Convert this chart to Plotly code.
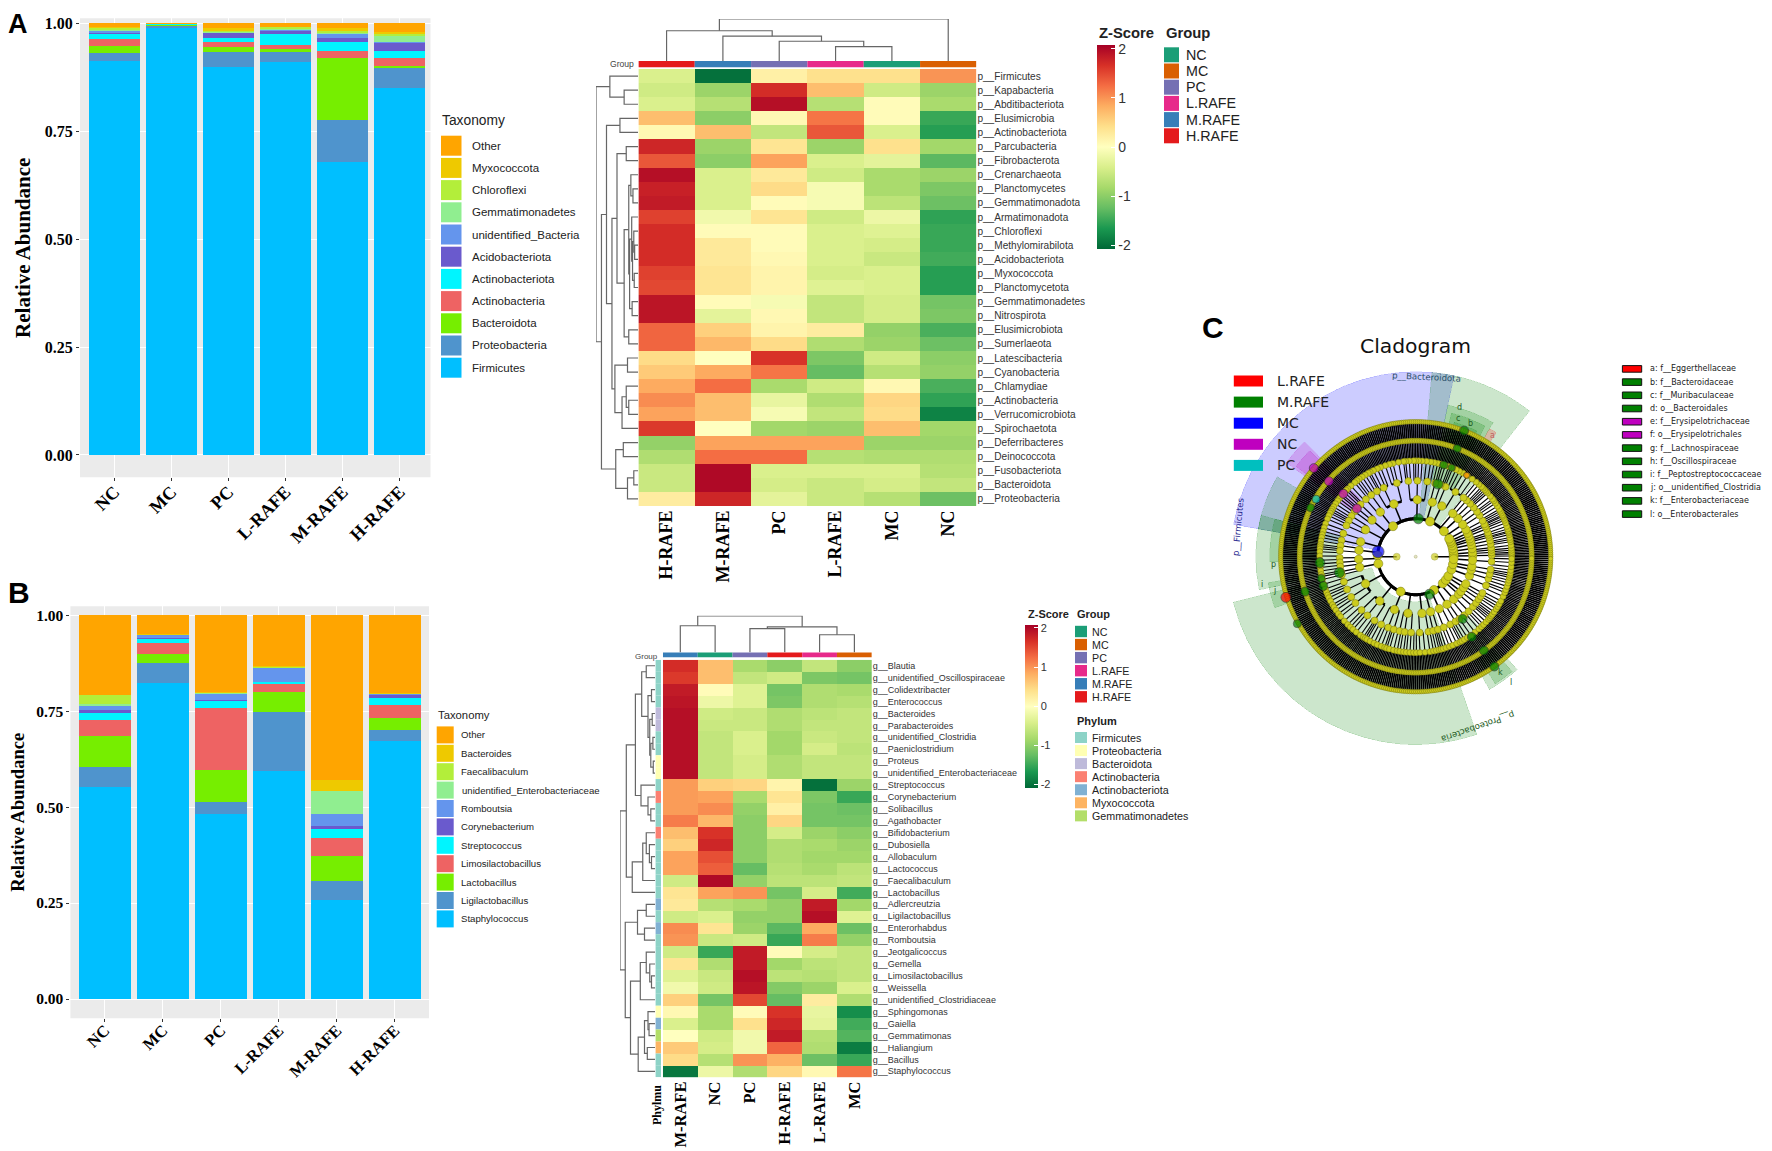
import plotly.graph_objects as go

# the page body keeps its default 8px margin, so the figure is 8px smaller and all pixel positions shift by 8
W, H = 1772, 1151
PAGE_MARGIN = 8
FIG_W, FIG_H = W - PAGE_MARGIN, H - PAGE_MARGIN

SERIF = "Liberation Serif"
SANS = "Liberation Sans"
DEJAVU = "DejaVu Sans"

SAMPLES = ["NC", "MC", "PC", "L-RAFE", "M-RAFE", "H-RAFE"]

# panel A, stacked phylum abundance (bottom of the stack first)
PHYLA_A = ["Firmicutes", "Proteobacteria", "Bacteroidota", "Actinobacteria", "Actinobacteriota",
           "Acidobacteriota", "unidentified_Bacteria", "Gemmatimonadetes", "Chloroflexi", "Myxococcota", "Other"]
ABUND_A = {
    "NC": [.913, .019, .016, .015, .012, .004, .004, .002, .004, .003, .008],
    "MC": [.989, .006, .001, .001, .001, .0, .0, .0, .001, .0, .001],
    "PC": [.899, .034, .012, .011, .011, .011, .001, .001, .003, .006, .011],
    "L-RAFE": [.910, .024, .006, .010, .025, .008, .001, .002, .005, .0015, .0075],
    "M-RAFE": [.678, .099, .143, .016, .020, .011, .008, .004, .004, .006, .011],
    "H-RAFE": [.850, .047, .004, .019, .016, .019, .001, .015, .004, .004, .021],
}

# panel B, stacked genus abundance
GENERA_B = ["Staphylococcus", "Ligilactobacillus", "Lactobacillus", "Limosilactobacillus", "Streptococcus",
            "Corynebacterium", "Romboutsia", "unidentified_Enterobacteriaceae", "Faecalibaculum", "Bacteroides", "Other"]
ABUND_B = {
    "NC": [.553, .051, .082, .041, .019, .008, .011, .003, .024, .001, .207],
    "MC": [.823, .052, .025, .028, .011, .002, .007, .001, .001, .001, .049],
    "PC": [.483, .029, .084, .163, .019, .002, .014, .003, .002, .001, .200],
    "L-RAFE": [.594, .155, .050, .023, .004, .001, .035, .002, .002, .001, .133],
    "M-RAFE": [.259, .048, .066, .046, .023, .008, .031, .061, .001, .027, .430],
    "H-RAFE": [.671, .029, .033, .034, .018, .007, .002, .001, .001, .001, .203],
}
STACK_COLORS = ["#00BFFF", "#4F94CD", "#76EE00", "#EE6363", "#00F5FF", "#6A5ACD",
                "#6495ED", "#90EE90", "#B3EE3A", "#EEC900", "#FFA500"]

# heatmap A
COLS_A = ["H-RAFE", "M-RAFE", "PC", "L-RAFE", "MC", "NC"]
COL_GROUP_A = ["H.RAFE", "M.RAFE", "PC", "L.RAFE", "NC", "MC"]
ROWS_A = ["Firmicutes", "Kapabacteria", "Abditibacteriota", "Elusimicrobia", "Actinobacteriota", "Parcubacteria",
          "Fibrobacterota", "Crenarchaeota", "Planctomycetes", "Gemmatimonadota", "Armatimonadota", "Chloroflexi",
          "Methylomirabilota", "Acidobacteriota", "Myxococcota", "Planctomycetota", "Gemmatimonadetes", "Nitrospirota",
          "Elusimicrobiota", "Sumerlaeota", "Latescibacteria", "Cyanobacteria", "Chlamydiae", "Actinobacteria",
          "Verrucomicrobiota", "Spirochaetota", "Deferribacteres", "Deinococcota", "Fusobacteriota", "Bacteroidota",
          "Proteobacteria"]
Z_A = [
    [-0.4, -2.0, 0.2, 0.4, 0.4, 1.0],
    [-0.5, -0.9, 1.7, 0.7, -0.5, -0.9],
    [-0.4, -0.7, 1.95, -0.7, 0.05, -0.8],
    [0.7, -1.0, 0.1, 1.2, 0.05, -1.5],
    [0.1, 0.7, -0.6, 1.4, -0.4, -1.6],
    [1.75, -0.9, 0.35, -0.9, 0.4, -0.85],
    [1.4, -1.0, 0.9, -0.4, -0.3, -1.3],
    [1.95, -0.4, 0.3, -0.5, -0.8, -0.9],
    [1.8, -0.4, 0.45, -0.1, -0.8, -1.1],
    [1.85, -0.4, 0.05, -0.1, -0.65, -1.2],
    [1.55, -0.15, 0.35, -0.5, -0.2, -1.55],
    [1.7, 0.05, 0.05, -0.4, -0.35, -1.5],
    [1.7, 0.3, 0.05, -0.4, -0.45, -1.5],
    [1.7, 0.3, 0.1, -0.4, -0.55, -1.45],
    [1.55, 0.35, 0.15, -0.45, -0.4, -1.6],
    [1.5, 0.35, 0.15, -0.35, -0.4, -1.6],
    [1.9, 0.05, -0.1, -0.6, -0.45, -1.15],
    [1.9, -0.3, 0.1, -0.6, -0.45, -1.1],
    [1.3, 0.55, 0.15, 0.25, -0.95, -1.4],
    [1.3, 0.75, 0.45, -0.75, -0.9, -1.2],
    [0.45, 0.0, 1.65, -1.1, -0.5, -1.0],
    [0.6, 0.85, 1.2, -1.25, -0.7, -0.95],
    [0.85, 1.25, -0.8, -0.5, 0.1, -1.4],
    [1.05, 0.7, -0.25, -0.75, 0.5, -1.55],
    [0.9, 0.7, -0.1, -0.6, 0.45, -1.85],
    [1.6, 0.0, -0.85, -0.9, 0.7, -0.85],
    [-0.95, 0.9, 0.9, 0.9, -0.9, -0.9],
    [-0.75, 1.25, 1.25, -0.7, -0.75, -0.75],
    [-0.55, 2.0, -0.4, -0.4, -0.4, -0.7],
    [-0.55, 2.0, -0.45, -0.55, -0.45, -0.6],
    [0.25, 1.75, -0.3, -0.55, -0.7, -1.2],
]

# heatmap B
COLS_B = ["M-RAFE", "NC", "PC", "H-RAFE", "L-RAFE", "MC"]
COL_GROUP_B = ["M.RAFE", "NC", "PC", "H.RAFE", "L.RAFE", "MC"]
ROWS_B = ["Blautia", "unidentified_Oscillospiraceae", "Colidextribacter", "Enterococcus", "Bacteroides",
          "Parabacteroides", "unidentified_Clostridia", "Paeniclostridium", "Proteus", "unidentified_Enterobacteriaceae",
          "Streptococcus", "Corynebacterium", "Solibacillus", "Agathobacter", "Bifidobacterium", "Dubosiella",
          "Allobaculum", "Lactococcus", "Faecalibaculum", "Lactobacillus", "Adlercreutzia", "Ligilactobacillus",
          "Enterorhabdus", "Romboutsia", "Jeotgalicoccus", "Gemella", "Limosilactobacillus", "Weissella",
          "unidentified_Clostridiaceae", "Sphingomonas", "Gaiella", "Gemmatimonas", "Haliangium", "Bacillus",
          "Staphylococcus"]
ROW_PHYLUM_B = ["Firmicutes", "Firmicutes", "Firmicutes", "Firmicutes", "Bacteroidota", "Bacteroidota", "Firmicutes",
                "Firmicutes", "Proteobacteria", "Proteobacteria", "Firmicutes", "Actinobacteria", "Firmicutes",
                "Firmicutes", "Actinobacteria", "Firmicutes", "Firmicutes", "Firmicutes", "Firmicutes", "Firmicutes",
                "Actinobacteriota", "Firmicutes", "Actinobacteriota", "Firmicutes", "Firmicutes", "Firmicutes",
                "Firmicutes", "Firmicutes", "Firmicutes", "Proteobacteria", "Actinobacteriota", "Gemmatimonadetes",
                "Myxococcota", "Firmicutes", "Firmicutes"]
Z_B = [
    [1.7, 0.7, -0.8, -1.0, -0.6, -1.0],
    [1.6, 0.7, -0.6, -0.5, -1.1, -1.15],
    [1.85, 0.05, -0.35, -1.15, -0.75, -0.8],
    [1.9, -0.2, -0.35, -1.1, -0.75, -0.7],
    [1.95, -0.5, -0.55, -0.75, -0.65, -0.6],
    [1.95, -0.55, -0.55, -0.75, -0.6, -0.6],
    [1.95, -0.6, -0.4, -0.85, -0.55, -0.6],
    [1.95, -0.6, -0.4, -0.85, -0.45, -0.65],
    [1.95, -0.6, -0.45, -0.75, -0.6, -0.6],
    [1.95, -0.6, -0.45, -0.75, -0.6, -0.6],
    [0.95, 0.55, 0.5, 0.15, -2.0, -0.9],
    [0.95, 0.9, -0.8, 0.35, -1.1, -1.5],
    [0.95, 1.05, -0.95, 0.2, -1.15, -1.2],
    [1.15, 0.75, -1.0, 0.5, -1.15, -1.15],
    [0.7, 1.65, -1.0, -0.45, -0.9, -1.0],
    [0.55, 1.75, -1.0, -0.75, -0.8, -0.9],
    [0.9, 1.45, -1.0, -0.75, -0.85, -0.85],
    [0.9, 1.35, -1.25, -0.7, -0.8, -0.65],
    [-0.5, 2.0, -0.95, -0.65, -0.65, -0.6],
    [0.35, 0.9, 1.0, -1.15, -0.45, -1.45],
    [0.3, -0.7, -0.8, -0.95, 1.85, -0.85],
    [-0.5, -0.4, -0.95, -0.95, 1.95, -0.35],
    [1.05, 0.35, -0.9, -1.3, 0.85, -1.2],
    [1.0, -0.55, -0.5, -1.5, 1.15, -0.95],
    [-0.5, -1.5, 1.85, 0.05, -0.45, -0.6],
    [0.35, -0.75, 1.85, -0.85, -0.65, -0.6],
    [-0.35, -0.55, 1.95, -0.65, -0.7, -0.6],
    [-0.15, -0.5, 1.9, -1.05, -0.9, -0.4],
    [0.55, -1.15, 1.5, -1.25, 0.25, -0.75],
    [0.1, -0.8, 0.05, 1.65, -0.25, -1.75],
    [-0.4, -0.8, 0.4, 1.75, -0.3, -1.45],
    [0.0, -0.5, -0.15, 1.85, -0.7, -1.35],
    [0.6, -0.45, -0.15, 1.3, -0.75, -1.9],
    [0.45, -0.7, 1.0, 0.8, -1.2, -1.5],
    [-1.95, -0.2, -0.75, 0.5, 0.1, 1.2],
]

# dendrograms: (merge height, left child, right child), a leaf is a row or column index
COL_TREE_A = (1.0, (.72, 0, (.59, 1, (.47, 2, (.34, 3, 4)))), 5)
COL_TREE_B = (1.0, (.73, 0, 1), (.70, (.65, 2, 3), (.485, 4, 5)))

_a5_19 = (.5, (.28, 5, 6), (.33, (.22, (.17, 7, (.12, 8, 9)),
                                  (.2, (.15, 10, (.13, (.1, 11, (.08, 12, 13)), (.09, 14, 15))), (.14, 16, 17))),
                            (.22, 18, 19)))
_a20_25 = (.55, (.25, 20, 21), (.38, (.28, 22, (.22, 23, 24)), 25))
_a3_25 = (.75, (.43, 3, 4), (.62, _a5_19, _a20_25))
_a26_30 = (.53, (.35, 26, 27), (.25, (.1, 28, 29), 30))
ROW_TREE_A = (1.0, (.67, 0, (.33, 1, 2)), (.87, _a3_25, _a26_30))

_b0_9 = (.38, (.25, 0, 1), (.2, (.1, 2, 3), (.15, (.08, 4, 5), (.12, (.06, 6, 7), (.05, 8, 9)))))
_b10_13 = (.4, 10, (.2, 11, (.12, 12, 13)))
_b14_19 = (.65, (.35, (.25, 14, (.16, 15, (.1, 16, 17))), 18), 19)
_b20_23 = (.5, (.25, 20, 21), (.3, 22, 23))
_b24_28 = (.42, (.25, 24, (.15, 25, (.1, 26, 27))), 28)
_b29_34 = (.48, (.3, (.2, 29, (.17, 30, 31)), (.22, 32, 33)), 34)
ROW_TREE_B = (1.0, (.82, (.56, _b0_9, _b10_13), _b14_19), (.85, _b20_23, (.7, _b24_28, _b29_34)))

GROUP_NAMES = ["NC", "MC", "PC", "L.RAFE", "M.RAFE", "H.RAFE"]
GROUP_COLORS = ["#1B9E77", "#D95F02", "#7570B3", "#E7298A", "#377EB8", "#E41A1C"]
PHYLUM_NAMES = ["Firmicutes", "Proteobacteria", "Bacteroidota", "Actinobacteria", "Actinobacteriota",
                "Myxococcota", "Gemmatimonadetes"]
PHYLUM_COLORS = ["#8DD3C7", "#FFFFB3", "#BEBADA", "#FB8072", "#80B1D3", "#FDB462", "#B3DE69"]
Z_TICKS = [-2, -1, 0, 1, 2]
Z_SCALE = [[0, "#006837"], [.1, "#1A9850"], [.2, "#66BD63"], [.3, "#A6D96A"], [.4, "#D9EF8B"], [.5, "#FFFFBF"],
           [.6, "#FEE08B"], [.7, "#FDAE61"], [.8, "#F46D43"], [.9, "#D73027"], [1, "#A50026"]]

# cladogram: phylum > class > order > family; an int is that many genera with one species each,
# counts estimated from the density of the rings, going anticlockwise from the east
CLADE_EAST = [[[[2, 1]]], [[[1, 2], [1]]], [[[3], [2, 1]]], [[[2, 2]]], [[[1, 1], [2]], [[2]]], [[[3, 1]]],
              [[[2], [1, 1]]], [[[2, 1, 2]]]]
CLADE_NORTHEAST = [[[[3, 2], [2, 1]], [[4, 2], [1, 2, 1]], [[2, 3], [2]]]]
CLADE_BACTEROIDOTA = [[[[5, 3, 4, 2], [3, 2, 1]], [[2, 3], [1, 2, 2]]]]
CLADE_FIRMICUTES = [[[[3, 2, 4], [2, 3, 1, 2], [4, 1, 2]], [[5, 3, 2, 4], [3, 2, 4, 1], [2, 3]], [[2, 3, 1], [3, 4]],
                     [[2, 1, 3], [1, 2], [2, 2]], [[3, 2], [2, 1, 2], [2, 3]], [[4, 2, 3], [2, 2]]]]
CLADE_WEST = [[[[3, 2], [1, 2, 2]], [[4, 2], [3]]], [[[2, 3], [2, 1], [3]]]]
CLADE_PROTEOBACTERIA = [[[[4, 3, 2], [2, 2, 3], [3, 1, 4], [2, 3]], [[5, 2, 3], [2, 4], [3, 2, 1, 2]],
                         [[3, 3], [2, 4, 1], [2, 2]], [[4, 1], [3, 2], [2, 3, 2]], [[2, 3, 4], [3, 2]],
                         [[2, 2], [1, 2, 2]]]]
CLADE_SOUTHEAST = [[[[3, 2], [4, 1, 2]], [[2, 3], [3]]], [[[4, 3], [2, 2]], [[3, 2, 1]]], [[[2, 1]]],
                   [[[3, 2], [2]], [[2, 3]]], [[[4, 2, 2], [3, 2]]], [[[2, 2]], [[1, 2, 2]]], [[[3, 3, 2]]]]
CLADE_TREE = (CLADE_EAST + CLADE_NORTHEAST + CLADE_BACTEROIDOTA + CLADE_FIRMICUTES
              + CLADE_WEST + CLADE_PROTEOBACTERIA + CLADE_SOUTHEAST)
RING_RADII = [38, 57, 76, 96, 116, 135]
RING_SIZES = [9, 8.5, 7, 6, 5, 4.5]
SPOKE_WIDTHS = [1.5, 1.2, 1.1, 1.4, 1.7]
ARC_WIDTHS = [3, 2.6, 2, 1.2, 1]
KINGDOM_THETA = [0, 180]

# coloured biomarker nodes
MARK_THETA = [172.5, 86, -70, 73, 73, 68, 69, 69, 140.7, 139, 139, 139, 150, 155, 183.6, 191.8, 193, 197.6, 197.5,
              197.4, 209.5, -53, -55, -54, -54.4, 58]
MARK_R = [38, 38, 40, 76, 96, 96, 116, 135, 76, 96, 115, 135, 115, 116, 96, 78, 97, 97, 116, 136, 136, 78, 98, 116,
          135, 96]
MARK_COLOR = ["#0000FF", "#008000", "#008000", "#008000", "#008000", "#008000", "#008000", "#008000", "#BF00BF",
              "#BF00BF", "#BF00BF", "#BF00BF", "#00BFBF", "#008000", "#008000", "#008000", "#008000", "#008000",
              "#008000", "#FF0000", "#008000", "#008000", "#008000", "#008000", "#008000", "#FF8C00"]
MARK_SIZE = [12, 10, 10, 10, 8, 7, 8, 9, 9, 9, 9, 9, 8, 8, 10, 10, 8, 9, 9, 10, 8, 9, 9, 9, 9, 6]

# shaded clades: start angle, end angle, inner radius, outer radius, colour
SECTOR_START = [78, 52, 194, 150, 165, 165, 190, 134, 135, 60, 62, 64, 57, 299, 302]
SECTOR_END = [170, 85, 289, 170, 192, 182, 200, 144, 143, 78, 76, 74, 60, 312, 310]
SECTOR_INNER = [38, 38, 45, 115, 78, 96, 115, 76, 96, 76, 96, 116, 135, 78, 116]
SECTOR_OUTER = [185, 185, 188, 160, 160, 146, 150, 160, 150, 155, 148, 140, 148, 152, 150]
SECTOR_COLOR = ["b", "g", "g", "g", "g", "g", "g", "m", "m", "g", "g", "g", "r", "g", "g"]
SECTOR_RGBA = {"b": "rgba(0,0,255,.2)", "g": "rgba(0,128,0,.2)", "m": "rgba(191,0,191,.2)", "r": "rgba(255,0,0,.2)"}

CLADE_LEGEND = ["L.RAFE", "M.RAFE", "MC", "NC", "PC"]
CLADE_LEGEND_COLORS = ["#FF0000", "#008000", "#0000FF", "#BF00BF", "#00BFBF"]
KEY_LABELS = ["a: f__Eggerthellaceae", "b: f__Bacteroidaceae", "c: f__Muribaculaceae", "d: o__Bacteroidales",
              "e: f__Erysipelotrichaceae", "f: o__Erysipelotrichales", "g: f__Lachnospiraceae", "h: f__Oscillospiraceae",
              "i: f__Peptostreptococcaceae", "j: o__unidentified_Clostridia", "k: f__Enterobacteriaceae",
              "l: o__Enterobacterales"]
KEY_COLORS = ["#FF0000", "#008000", "#008000", "#008000", "#BF00BF", "#BF00BF", "#008000", "#008000", "#008000",
              "#008000", "#008000", "#008000"]


def fx(px):
    return (px - PAGE_MARGIN) / FIG_W


def fy(py):
    return 1 - (py - PAGE_MARGIN) / FIG_H


shapes = []
annotations = []


def swatch(x0, y0, x1, y1, color, line_color=None):
    shapes.append(dict(type="rect", xref="paper", yref="paper", x0=fx(x0), x1=fx(x1), y0=fy(y1), y1=fy(y0),
                       fillcolor=color, line=dict(width=1 if line_color else 0, color=line_color or color)))


def label(x, y, text, size, family=SANS, anchor="left", color="#222222", angle=0):
    annotations.append(dict(xref="paper", yref="paper", x=fx(x), y=fy(y), text=text, showarrow=False,
                            xanchor=anchor, yanchor="middle", textangle=angle,
                            font=dict(size=size, family=family, color=color)))


def tree_segments(node):
    # returns position, height, and the elbow lines of one dendrogram
    if isinstance(node, int):
        return node, 0, []
    h, left, right = node
    p_l, h_l, seg_l = tree_segments(left)
    p_r, h_r, seg_r = tree_segments(right)
    seg = seg_l + seg_r + [([p_l, p_l, p_r, p_r, None], [h_l, h, h, h_r, None])]
    return (p_l + p_r) / 2, h, seg


def flatten(seg):
    pos, hgt = [], []
    for a, b in seg:
        pos += a
        hgt += b
    return pos, hgt


fig = go.Figure()


def axis_dom(x0, x1):
    return [fx(x0), fx(x1)]


def axis_dom_y(y_top, y_bottom):
    return [fy(y_bottom), fy(y_top)]


def add_stack(samples, names, table, axis_id):
    xa, ya = ("x", "y") if axis_id == 1 else (f"x{axis_id}", f"y{axis_id}")
    for i, name in enumerate(names):
        fig.add_trace(go.Bar(x=list(range(len(samples))), y=[table[s][i] for s in samples], name=name,
                             marker=dict(color=STACK_COLORS[i], line=dict(width=0)), xaxis=xa, yaxis=ya,
                             showlegend=False, hoverinfo="name+y"))


def stack_axes(num, x0, x1, y_top, y_bottom, xr, yr, tick_size, x_tick_size, x_standoff, title_size, standoff):
    grid = "#FFFFFF"
    xkey = "xaxis" if num == 1 else f"xaxis{num}"
    ykey = "yaxis" if num == 1 else f"yaxis{num}"
    xa = "x" if num == 1 else f"x{num}"
    ya = "y" if num == 1 else f"y{num}"
    fig.update_layout({
        xkey: dict(domain=axis_dom(x0, x1), range=xr, anchor=ya, tickmode="array", tickvals=list(range(6)),
                   ticktext=SAMPLES, tickangle=-45, ticks="outside", ticklen=3, tickcolor="#333333", showgrid=True,
                   gridcolor=grid, gridwidth=1, zeroline=False, showline=False, ticklabelstandoff=x_standoff,
                   tickfont=dict(family=SERIF, size=x_tick_size, color="black", weight="bold")),
        ykey: dict(domain=axis_dom_y(y_top, y_bottom), range=yr, anchor=xa, tickmode="array",
                   tickvals=[0, .25, .5, .75, 1], ticktext=["0.00", "0.25", "0.50", "0.75", "1.00"], ticks="outside",
                   ticklen=3, tickcolor="#333333", showgrid=True, gridcolor=grid, gridwidth=1, zeroline=False,
                   showline=False, tickfont=dict(family=SERIF, size=tick_size, color="black", weight="bold"),
                   title=dict(text="Relative Abundance", standoff=standoff,
                              font=dict(family=SERIF, size=title_size, color="black", weight="bold"))),
    })
    shapes.append(dict(type="rect", xref="paper", yref="paper", layer="below", x0=fx(x0), x1=fx(x1), y0=fy(y_bottom),
                       y1=fy(y_top), fillcolor="#EBEBEB", line=dict(width=0)))


def stack_legend(title, names, x, y_title, y_first, box_w, box_h, step, title_size, size, label_dx):
    label(x, y_title, title, title_size)
    for k, name in enumerate(reversed(names)):
        top = y_first + k * step
        swatch(x + 1, top, x + 1 + box_w, top + box_h, STACK_COLORS[len(names) - 1 - k])
        label(x + label_dx, top + box_h / 2, name, size)


def add_heatmap(num, z, cols, rows, prefix, x0, x1, y_top, y_bottom, col_groups, bar_top, bar_bottom,
                label_size, col_size, bar_x, bar_y, bar_len, bar_w, tick_size, col_tree, row_tree, dend_top, dend_left):
    n_rows = len(rows)
    xa, ya = f"x{num}", f"y{num}"
    fig.add_trace(go.Heatmap(z=z, x=list(range(6)), y=list(range(n_rows)), xaxis=xa, yaxis=ya, zmin=-2.08, zmax=2.08,
                             colorscale=Z_SCALE,
                             colorbar=dict(x=fx(bar_x), y=fy(bar_y), xanchor="left", yanchor="top",
                                           xpad=0, ypad=0, lenmode="pixels", len=bar_len, thicknessmode="pixels",
                                           thickness=bar_w, tickmode="array", tickvals=Z_TICKS,
                                           ticktext=[str(t) for t in Z_TICKS], ticks="inside", ticklen=4,
                                           tickcolor="#FFFFFF", outlinewidth=0,
                                           tickfont=dict(family=SANS, size=tick_size, color="#333333"))))
    fig.update_layout({
        f"xaxis{num}": dict(domain=axis_dom(x0, x1), range=[-.5, 5.5], anchor=ya, tickmode="array",
                            tickvals=list(range(6)), ticktext=cols, tickangle=-90, ticklen=0, showgrid=False,
                            zeroline=False, tickfont=dict(family=SERIF, size=col_size, color="black", weight="bold")),
        f"yaxis{num}": dict(domain=axis_dom_y(y_top, y_bottom), range=[n_rows - .5, -.5], anchor=xa, side="right",
                            tickmode="array", tickvals=list(range(n_rows)), ticktext=[prefix + r for r in rows],
                            ticklen=0, showgrid=False, zeroline=False,
                            tickfont=dict(family=SANS, size=label_size, color="#333333")),
    })
    for i, g in enumerate(col_groups):
        shapes.append(dict(type="rect", xref=xa, yref="paper", x0=i - .5, x1=i + .5, y0=fy(bar_bottom), y1=fy(bar_top),
                           fillcolor=GROUP_COLORS[GROUP_NAMES.index(g)], line=dict(width=0)))
    # dendrograms
    cx, cy = flatten(tree_segments(col_tree)[2])
    fig.add_trace(go.Scatter(x=cx, y=cy, mode="lines", line=dict(color="#666666", width=1.2), hoverinfo="skip",
                             showlegend=False, xaxis=f"x{num + 2}", yaxis=f"y{num + 2}"))
    rp, rh = flatten(tree_segments(row_tree)[2])
    fig.add_trace(go.Scatter(x=rh, y=rp, mode="lines", line=dict(color="#666666", width=1.2), hoverinfo="skip",
                             showlegend=False, xaxis=f"x{num + 4}", yaxis=f"y{num + 4}"))
    hidden = dict(visible=False, showgrid=False, zeroline=False)
    fig.update_layout({
        f"xaxis{num + 2}": dict(domain=axis_dom(x0, x1), range=[-.5, 5.5], anchor=f"y{num + 2}", **hidden),
        f"yaxis{num + 2}": dict(domain=axis_dom_y(dend_top, bar_top), range=[0, 1], anchor=f"x{num + 2}", **hidden),
        f"xaxis{num + 4}": dict(domain=axis_dom(dend_left[0], dend_left[1]), range=[1, 0], anchor=f"y{num + 4}", **hidden),
        f"yaxis{num + 4}": dict(domain=axis_dom_y(y_top, y_bottom), range=[n_rows - .5, -.5], anchor=f"x{num + 4}", **hidden),
    })


# stacked bars
add_stack(SAMPLES, PHYLA_A, ABUND_A, 1)
add_stack(SAMPLES, GENERA_B, ABUND_B, 2)
stack_axes(1, 80, 430.5, 18.3, 477.3, [-.6, 5.54], [-.0518, 1.0116], 16, 18, -7, 21, 8)
stack_axes(2, 70.4, 429, 606.3, 1018.3, [-.593, 5.59], [-.0503, 1.0232], 15.5, 16.5, -8, 18.5, 8)
stack_legend("Taxonomy", PHYLA_A, 440, 121, 135.7, 20.5, 20, 22.2, 13.8, 11.5, 30)
stack_legend("Taxonomy", GENERA_B, 435.7, 714.5, 726.4, 17, 17, 18.4, 11.3, 9.6, 23.8)

# heatmaps
add_heatmap(3, Z_A, COLS_A, ROWS_A, "p__", 638.4, 976.4, 69, 506, COL_GROUP_A, 61, 67.3, 10.1, 18, 1096.7, 45, 204, 17.6, 14,
            COL_TREE_A, ROW_TREE_A, 19, (596, 638))
add_heatmap(4, Z_B, COLS_B, ROWS_B, "g__", 662.9, 871.8, 659.8, 1077.3, COL_GROUP_B, 652.6, 657.3, 9, 16.5, 1025, 624.7, 163,
            13, 11, COL_TREE_B, ROW_TREE_B, 615.8, (620, 655))

# annotation bar with the phylum of each genus
for i, ph in enumerate(ROW_PHYLUM_B):
    shapes.append(dict(type="rect", xref="paper", yref="y4", x0=fx(655.6), x1=fx(661), y0=i - .5, y1=i + .5,
                       fillcolor=PHYLUM_COLORS[PHYLUM_NAMES.index(ph)], line=dict(width=0)))

label(636, 64, "Group", 8.6, anchor="right", color="#444444")
label(660, 656, "Group", 8, anchor="right", color="#444444")
label(657, 1105, "<b>Phylmu</b>", 12, family=SERIF, anchor="center", color="black", angle=-90)

# heatmap legends
label(1096.7, 33.3, "<b>Z-Score</b>", 14.8)
label(1164, 33.3, "<b>Group</b>", 14.8)
for k, name in enumerate(GROUP_NAMES):
    swatch(1164, 47.3 + k * 16.2, 1179, 62.3 + k * 16.2, GROUP_COLORS[k])
    label(1184, 54.8 + k * 16.2, name, 14.3)

label(1025.7, 614, "<b>Z-Score</b>", 11)
label(1074.6, 614, "<b>Group</b>", 11)
for k, name in enumerate(GROUP_NAMES):
    swatch(1075, 625.8 + k * 13.06, 1087, 637.2 + k * 13.06, GROUP_COLORS[k])
    label(1090, 631.5 + k * 13.06, name, 10.7)
label(1074.6, 720.6, "<b>Phylum</b>", 11)
for k, name in enumerate(PHYLUM_NAMES):
    swatch(1075, 732 + k * 13.06, 1087, 743 + k * 13.06, PHYLUM_COLORS[k])
    label(1090, 737.5 + k * 13.06, name, 10.7)

# panel letters
label(6, 24, "<b>A</b>", 27, color="black")
label(6, 592, "<b>B</b>", 30, color="black")
label(1200, 327, "<b>C</b>", 30, color="black")

# cladogram
def count_leaves(node, depth):
    if depth == len(RING_RADII) - 1:
        return 1
    kids = node if isinstance(node, list) else [1] * node
    return sum(count_leaves(k, depth + 1) for k in kids)


STEP = 360 / sum(count_leaves(p, 0) for p in CLADE_TREE)
node_theta = [[] for _ in RING_RADII]
spoke_r = [[] for _ in RING_RADII]
spoke_t = [[] for _ in RING_RADII]
arc_r = [[] for _ in RING_RADII]
arc_t = [[] for _ in RING_RADII]
next_leaf = [0]


def place(node, depth):
    if depth == len(RING_RADII) - 1:
        theta = next_leaf[0] * STEP
        next_leaf[0] += 1
        node_theta[depth].append(theta)
        return theta
    kids = node if isinstance(node, list) else [1] * node
    angles = [place(k, depth + 1) for k in kids]
    r = RING_RADII[depth]
    # radial spokes from each child back to this ring, then the arc that joins them
    for a in angles:
        spoke_r[depth] += [RING_RADII[depth + 1], r, None]
        spoke_t[depth] += [a, a, None]
    steps = max(int((angles[-1] - angles[0]) / 1.5), 1)
    arc_r[depth] += [r] * (steps + 1) + [None]
    arc_t[depth] += [angles[0] + (angles[-1] - angles[0]) * s / steps for s in range(steps + 1)] + [None]
    theta = (angles[0] + angles[-1]) / 2
    node_theta[depth].append(theta)
    return theta


for phylum in CLADE_TREE:
    place(phylum, 0)

fig.add_trace(go.Barpolar(theta=[(a + b) / 2 for a, b in zip(SECTOR_START, SECTOR_END)],
                          width=[b - a for a, b in zip(SECTOR_START, SECTOR_END)],
                          r=[o - i for i, o in zip(SECTOR_INNER, SECTOR_OUTER)], base=SECTOR_INNER,
                          marker=dict(color=[SECTOR_RGBA[c] for c in SECTOR_COLOR],
                                      line=dict(width=0.5, color=[SECTOR_RGBA[c] for c in SECTOR_COLOR])),
                          showlegend=False, hoverinfo="skip", subplot="polar"))
# outermost level first so the heavier inner lines sit on top
for depth in range(len(RING_RADII) - 2, -1, -1):
    fig.add_trace(go.Scatterpolar(r=spoke_r[depth], theta=spoke_t[depth], mode="lines",
                                  line=dict(color="black", width=SPOKE_WIDTHS[depth]),
                                  showlegend=False, hoverinfo="skip", subplot="polar"))
    fig.add_trace(go.Scatterpolar(r=arc_r[depth], theta=arc_t[depth], mode="lines",
                                  line=dict(color="black", width=ARC_WIDTHS[depth]),
                                  showlegend=False, hoverinfo="skip", subplot="polar"))
ring_arc = list(range(0, 362, 2))
fig.add_trace(go.Scatterpolar(r=[RING_RADII[0]] * len(ring_arc), theta=ring_arc, mode="lines",
                              line=dict(color="black", width=3), showlegend=False, hoverinfo="skip", subplot="polar"))
fig.add_trace(go.Scatterpolar(r=[19, 38, None, 19, 38], theta=[KINGDOM_THETA[0], KINGDOM_THETA[0], None,
                                                              KINGDOM_THETA[1], KINGDOM_THETA[1]], mode="lines",
                              line=dict(color="black", width=1.5), showlegend=False, hoverinfo="skip", subplot="polar"))
for depth in range(len(RING_RADII) - 1, -1, -1):
    fig.add_trace(go.Scatterpolar(r=[RING_RADII[depth]] * len(node_theta[depth]), theta=node_theta[depth], mode="markers",
                                  marker=dict(size=RING_SIZES[depth], color="#CCCC1E",
                                              line=dict(width=0.5, color="#77770F")),
                                  showlegend=False, hoverinfo="skip", subplot="polar"))
fig.add_trace(go.Scatterpolar(r=[19, 19, 0], theta=KINGDOM_THETA + [0], mode="markers",
                              marker=dict(size=[7, 7, 3], color=["#CCCC1E", "#CCCC1E", "#D8D8B0"], line=dict(width=0.4, color="#77770F")),
                              showlegend=False, hoverinfo="skip", subplot="polar"))
fig.add_trace(go.Scatterpolar(r=MARK_R, theta=MARK_THETA, mode="markers",
                              marker=dict(size=MARK_SIZE, color=MARK_COLOR, line=dict(width=0.8, color="#222222")),
                              showlegend=False, hoverinfo="skip", subplot="polar"))

CX, CY, CR = 1415.7, 556.7, 195
fig.update_layout(polar=dict(
    domain=dict(x=[fx(CX - CR), fx(CX + CR)], y=[fy(CY + CR), fy(CY - CR)]),
    bgcolor="rgba(0,0,0,0)", sector=[0, 360],
    radialaxis=dict(visible=False, range=[0, CR]),
    angularaxis=dict(visible=False, rotation=0, direction="counterclockwise"),
))

label(CX, 346, "Cladogram", 20.3, family=DEJAVU, anchor="center", color="#111111")
for k, name in enumerate(CLADE_LEGEND):
    y = 381 + k * 21.1
    swatch(1233.8, y - 5.5, 1263, y + 5.5, CLADE_LEGEND_COLORS[k])
    label(1275.4, y, name, 14, family=DEJAVU)
for k, name in enumerate(KEY_LABELS):
    y = 368.9 + k * 13.2
    swatch(1622.4, y - 3.3, 1641.7, y + 3.3, KEY_COLORS[k], "#111111")
    label(1648, y, name, 8, family=DEJAVU)

label(1426.8, 377, "p__Bacteroidota", 8.6, family=DEJAVU, anchor="center", color="#2A4F6A", angle=3)
label(1238, 527, "p__Firmicutes", 8.6, family=DEJAVU, anchor="center", color="#2A2A90", angle=-85)
label(1477.7, 727, "p__Proteobacteria", 8.6, family=DEJAVU, anchor="center", color="#1D5A1D", angle=161)
for x, y, t, c in [(1459, 408, "d", "#1D5A1D"), (1458, 419, "c", "#1D5A1D"), (1470, 423, "b", "#1D5A1D"),
                   (1492, 435, "a", "#C06060"), (1273.5, 564, "p", "#1D5A1D"), (1262, 584, "i", "#1D5A1D"),
                   (1274, 590, "j", "#1D5A1D"), (1500, 672, "k", "#1D5A1D"), (1511, 682, "l", "#1D5A1D")]:
    label(x, y, t, 8, family=DEJAVU, anchor="center", color=c)

fig.update_layout(width=FIG_W, height=FIG_H, margin=dict(l=0, r=0, t=0, b=0, autoexpand=False), autosize=False,
                  barmode="stack", bargap=.1, paper_bgcolor="white", plot_bgcolor="rgba(0,0,0,0)", showlegend=False,
                  shapes=shapes, annotations=annotations, font=dict(family=SANS))

fig.write_html("out.html")
